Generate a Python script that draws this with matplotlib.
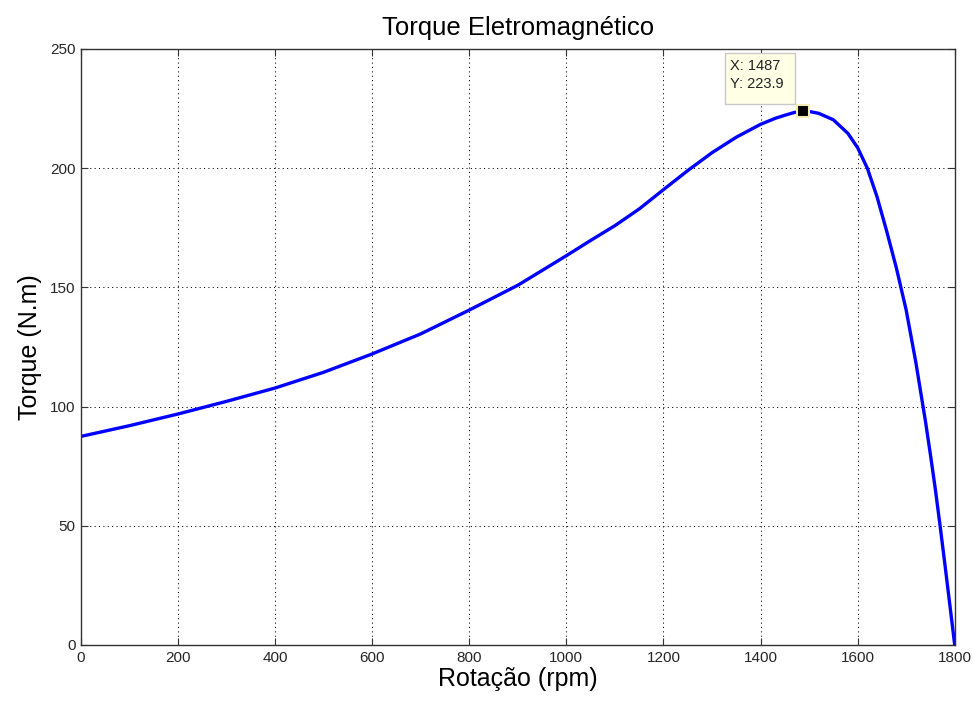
import matplotlib.pyplot as plt
from matplotlib.patches import Rectangle

plt.rcParams['font.family'] = ['Liberation Sans', 'DejaVu Sans']

# rotor speed (rpm) and electromagnetic torque (N.m)
rotacao = [0, 100, 200, 300, 400, 500, 600, 700, 800, 900, 1000, 1050, 1100,
           1150, 1200, 1250, 1300, 1350, 1400, 1430, 1450, 1470, 1487, 1500,
           1520, 1550, 1580, 1600, 1620, 1640, 1660, 1680, 1700, 1720, 1740,
           1750, 1760, 1770, 1780, 1790, 1800]
torque = [87.5, 92.0, 96.9, 102.2, 107.8, 114.4, 122.1, 130.5, 140.5, 150.9,
          163.3, 169.7, 175.9, 182.9, 191.0, 199.0, 206.5, 213.0, 218.4, 220.9,
          222.2, 223.4, 223.9, 223.8, 223.0, 220.3, 214.6, 208.6, 200.0, 188.0,
          173.5, 158.0, 140.5, 118.5, 93.5, 79.8, 65.5, 49.8, 33.5, 16.8, 0.0]

pico_x = 1487
pico_y = 223.9

fig = plt.figure(figsize=(9.73, 7.01), dpi=100)
ax = fig.add_axes([0.0832, 0.0799, 0.898, 0.8502])

ax.plot(rotacao, torque, color='#0000ff', linewidth=2.4, solid_joinstyle='round',
        solid_capstyle='round')

# data tip on the peak torque
ax.plot([pico_x], [pico_y], marker='s', markersize=8, color='black',
        markeredgecolor='#f2ebb8', markeredgewidth=1.5, zorder=5)
ax.add_patch(Rectangle((1326, 227), 144, 21.4, facecolor='#ffffe6',
                       edgecolor='#c8c8c8', linewidth=1, zorder=6))
ax.text(1337, 245.6, f'X: {pico_x}\nY: {pico_y}', fontsize=10.5, va='top',
        ha='left', linespacing=1.3, color='#222222', zorder=7)

ax.set_xlim(0, 1800)
ax.set_ylim(0, 250)
ax.set_xticks(range(0, 1801, 200))
ax.set_yticks(range(0, 251, 50))
ax.grid(True, color='black', linestyle=(0, (1, 3.2)), linewidth=0.75)
ax.tick_params(direction='in', top=True, right=True, labelsize=11, length=5,
               color='#333333', labelcolor='#262626', pad=4)
for s in ax.spines.values():
    s.set_color('#333333')
    s.set_linewidth(1)

ax.set_title('Torque Eletromagnético', fontsize=18.5, pad=10)
ax.set_xlabel('Rotação (rpm)', fontsize=18, labelpad=2)
ax.set_ylabel('Torque (N.m)', fontsize=18, labelpad=6)

fig.savefig('out.png', dpi=100)
